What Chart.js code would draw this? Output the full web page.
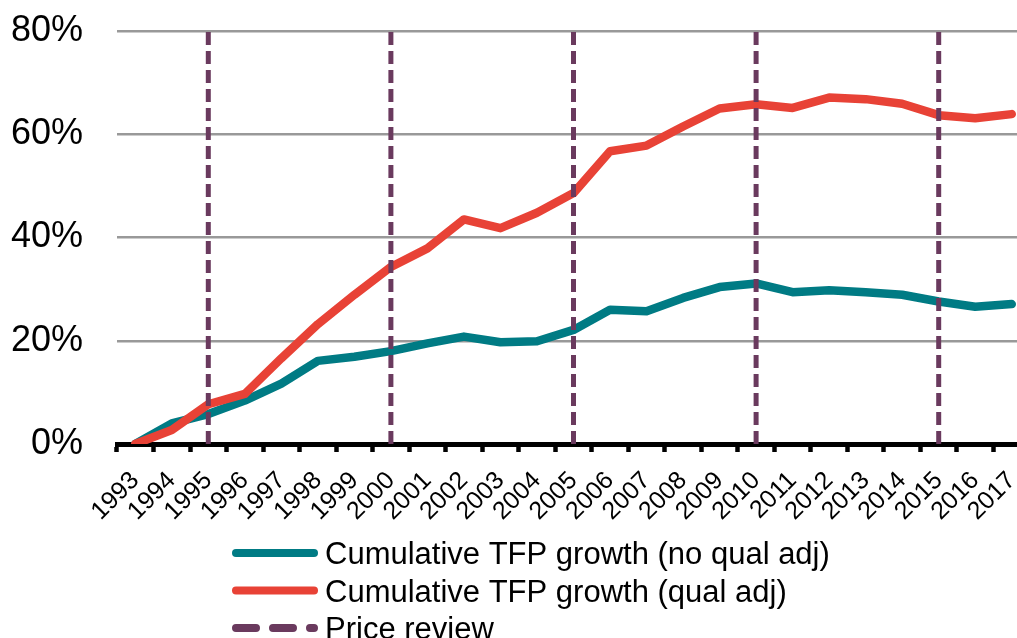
<!DOCTYPE html>
<html>
<head>
<meta charset="utf-8">
<title>Cumulative TFP growth</title>
<script src="https://cdn.jsdelivr.net/npm/chart.js@4/dist/chart.umd.min.js"></script>
<style>
  html, body { margin: 0; padding: 0; background: #ffffff; overflow: hidden; }
  #wrap { position: relative; width: 1030px; height: 638px; }
</style>
</head>
<body>
<div id="wrap"><canvas id="chart"></canvas></div>
<script>
// Years on the horizontal axis
const years = ['1993','1994','1995','1996','1997','1998','1999','2000','2001','2002',
               '2003','2004','2005','2006','2007','2008','2009','2010','2011','2012',
               '2013','2014','2015','2016','2017'];

// Cumulative TFP growth, % since 1993
const tfpNoQualAdj = [0, 4.0, 5.8, 8.4, 11.7, 16.1, 16.9, 18.0, 19.5, 20.8,
                      19.7, 19.9, 22.1, 26.0, 25.7, 28.3, 30.4, 31.1, 29.4, 29.8,
                      29.4, 28.9, 27.6, 26.6, 27.1];
const tfpQualAdj   = [0, 2.7, 7.7, 9.7, 16.6, 23.2, 28.9, 34.3, 37.9, 43.5,
                      41.8, 44.8, 48.6, 56.7, 57.8, 61.5, 65.0, 65.8, 65.1, 67.1,
                      66.8, 65.9, 63.7, 63.1, 63.9];

// Years with a price review
const priceReviewYears = ['1995', '2000', '2005', '2010', '2015'];

// Value axis
const yTicks = [0, 20, 40, 60, 80];

const seriesNames = [
  'Cumulative TFP growth (no qual adj)',
  'Cumulative TFP growth (qual adj)',
  'Price review'
];

const TEAL = '#007b84';
const RED = '#e84236';
const PURPLE = '#6a3a5e';
const FONT = '"Liberation Sans", Arial, Helvetica, sans-serif';

const yMin = yTicks[0];
const yMax = yTicks[yTicks.length - 1];

// Each price review becomes a vertical segment; null breaks the path between them
const reviewSegments = priceReviewYears.flatMap(yr => [
  { x: yr, y: yMin },
  { x: yr, y: yMax },
  { x: yr, y: null }
]);

// Legend stacked one entry per row, drawn under the axis
const stackedLegend = {
  id: 'stackedLegend',
  afterDraw(chart, args, opts) {
    const ctx = chart.ctx;
    const area = chart.chartArea;
    ctx.save();
    ctx.font = opts.fontSize + 'px ' + FONT;
    ctx.fillStyle = '#000';
    ctx.textBaseline = 'alphabetic';
    ctx.textAlign = 'left';
    opts.entries.forEach((e, i) => {
      const y = area.bottom + opts.firstRow + i * opts.rowStep;
      ctx.beginPath();
      ctx.lineWidth = opts.lineWidth;
      ctx.lineCap = 'round';
      ctx.strokeStyle = e.color;
      ctx.setLineDash(e.dash || []);
      ctx.moveTo(opts.x + opts.lineWidth / 2, y);
      ctx.lineTo(opts.x + opts.sampleWidth - opts.lineWidth / 2, y);
      ctx.stroke();
      ctx.setLineDash([]);
      ctx.fillText(e.text, opts.x + opts.sampleWidth + opts.gap, y + opts.textShift);
    });
    ctx.restore();
  }
};

new Chart(document.getElementById('chart'), {
  type: 'line',
  data: {
    labels: years,
    datasets: [
      {
        label: seriesNames[2],
        data: reviewSegments,
        borderColor: PURPLE,
        borderWidth: 5,
        borderDash: [13, 6],
        borderCapStyle: 'butt',
        pointRadius: 0,
        spanGaps: false,
        order: 0
      },
      {
        label: seriesNames[1],
        data: tfpQualAdj,
        borderColor: RED,
        borderWidth: 8.5,
        borderCapStyle: 'round',
        borderJoinStyle: 'round',
        pointRadius: 0,
        tension: 0,
        order: 1
      },
      {
        label: seriesNames[0],
        data: tfpNoQualAdj,
        borderColor: TEAL,
        borderWidth: 8.5,
        borderCapStyle: 'round',
        borderJoinStyle: 'round',
        pointRadius: 0,
        tension: 0,
        order: 2
      }
    ]
  },
  options: {
    responsive: true,
    maintainAspectRatio: false,
    animation: false,
    layout: { padding: { top: 31, left: 0, right: 0, bottom: 0 } },
    plugins: {
      legend: { display: false },
      tooltip: { enabled: false },
      stackedLegend: {
        x: 232,
        sampleWidth: 86,
        gap: 7,
        lineWidth: 8,
        firstRow: 109,
        rowStep: 37.5,
        fontSize: 31,
        textShift: 11,
        entries: [
          { text: seriesNames[0], color: TEAL },
          { text: seriesNames[1], color: RED },
          { text: seriesNames[2], color: PURPLE, dash: [20, 17] }
        ]
      }
    },
    scales: {
      x: {
        type: 'category',
        offset: true,
        grid: {
          offset: true,
          drawOnChartArea: false,
          drawTicks: true,
          tickLength: 8,
          tickWidth: 4.5,
          tickColor: '#000'
        },
        border: { display: true, color: '#000', width: 5 },
        ticks: {
          autoSkip: false,
          maxRotation: 45,
          minRotation: 45,
          padding: 14,
          color: '#000',
          font: { family: FONT, size: 25 }
        },
        afterFit(scale) {
          scale.height = 194;
          scale.paddingLeft = 0;
          scale.paddingRight = 0;
        }
      },
      y: {
        min: yMin,
        max: yMax,
        afterBuildTicks(scale) { scale.ticks = yTicks.map(v => ({ value: v })); },
        grid: {
          color: '#999999',
          lineWidth: 2.5,
          drawTicks: false
        },
        border: { display: false },
        ticks: {
          padding: 34,
          color: '#000',
          font: { family: FONT, size: 36 },
          callback: v => v + '%'
        },
        afterFit(scale) {
          scale.width = 117;
          scale.paddingTop = 0;
          scale.paddingBottom = 0;
        }
      }
    }
  },
  plugins: [stackedLegend]
});
</script>
</body>
</html>
